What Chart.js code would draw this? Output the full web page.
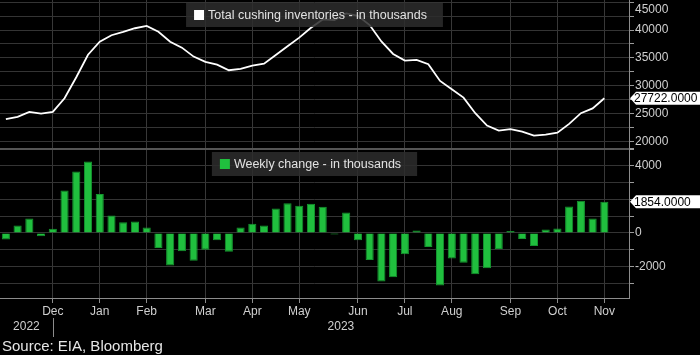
<!DOCTYPE html>
<html><head><meta charset="utf-8">
<script src="https://cdn.jsdelivr.net/npm/chart.js@4.4.0/dist/chart.umd.min.js"></script>
<style>
html,body{margin:0;padding:0;background:#000;}
#wrap{position:relative;width:700px;height:355px;overflow:hidden;background:#000;}
#c{position:absolute;left:0;top:0;}
#src{position:absolute;left:2px;top:337px;font:15px "Liberation Sans",Arial,sans-serif;color:#e6e6e6;line-height:18px;white-space:nowrap;}
</style></head><body>
<div id="wrap"><canvas id="c" width="700" height="355"></canvas><div id="src">Source: EIA, Bloomberg</div></div>
<script>
// ---- data ----
const weeks = [0,1,2,3,4,5,6,7,8,9,10,11,12,13,14,15,16,17,18,19,20,21,22,23,24,25,
  26,27,28,29,30,31,32,33,34,35,36,37,38,39,40,41,42,43,44,45,46,47,48,49,50,51];
const inventory = [23960,24370,25270,24960,25270,27730,31500,35550,37900,39060,39660,40320,40740,
  39700,37900,36830,35220,34260,33780,32770,33000,33600,33960,35520,37090,38630,
  40400,41900,41800,43000,42560,40900,37950,35700,34500,34620,33850,30850,29350,27840,
  25040,22810,21910,22160,21730,21010,21190,21550,23110,25040,25900,27722];
const weeklyChange = [-400,440,860,-200,240,2520,3660,4260,2320,1040,640,680,320,
  -900,-1940,-1100,-1660,-1000,-440,-1120,320,540,440,1460,1760,1620,
  1740,1560,-100,1220,-440,-1620,-2900,-2640,-1280,140,-840,-3140,-1520,-1780,
  -2460,-2100,-960,120,-360,-780,200,260,1580,1920,860,1854];
const monthTickWeeks = [4,8,12,17,21,25,30,34,38,43,47,51];
const monthLabels = ['Dec','Jan','Feb','Mar','Apr','May','Jun','Jul','Aug','Sep','Oct','Nov'];
const inventoryTicks = [20000,22500,25000,27500,30000,32500,35000,37500,40000,42500,45000];
const changeTicks = [-3000,-2000,-1000,0,1000,2000,3000,4000,5000];
const yearLabels = ['2022','2023'];
const yearBoundaryWeek = 4;
const seriesNames = ['Total cushing inventories - in thousands','Weekly change - in thousands'];

const FONT = '"Liberation Sans", Arial, sans-serif';
Chart.defaults.font.family = FONT;

const LABEL_COL = '#cfcfcf';
const GRID_COL = '#343434';
const AXIS_COL = '#8c8c8c';
const GREEN = '#20bf3e';

// hide an axis label when the last-value box would sit on top of it
function nearLast(v, series, min, max) {
  return Math.abs(v - series[series.length - 1]) < (max - min) * 0.05;
}

const legendPlugin = {
  id: 'panelLegends',
  afterDatasetsDraw(chart) {
    const ctx = chart.ctx, area = chart.chartArea;
    const cx = (area.left + area.right) / 2;
    ctx.save();
    ctx.font = '12.5px ' + FONT;
    chart.data.datasets.forEach((ds) => {
      const sc = chart.scales[ds.yAxisID];
      const text = ds.label;
      const tw = ctx.measureText(text).width;
      const w = 8 + 10 + 4 + tw + 16;
      const h = 24;
      const x = cx - w / 2;
      const y = sc.top + 3;
      ctx.fillStyle = 'rgba(44,44,44,0.86)';
      ctx.fillRect(x, y, w, h);
      ctx.fillStyle = ds.legendColor;
      ctx.fillRect(x + 8, y + 7, 10, 10);
      ctx.fillStyle = '#e2e2e2';
      ctx.textBaseline = 'middle';
      ctx.textAlign = 'left';
      ctx.fillText(text, x + 22, y + h / 2 + 0.5);
    });
    ctx.restore();
  },
  afterDraw(chart) {
    const ctx = chart.ctx, area = chart.chartArea;
    ctx.save();
    chart.data.datasets.forEach((ds) => {
      const last = ds.data[ds.data.length - 1].y;
      const y = chart.scales[ds.yAxisID].getPixelForValue(last);
      const x0 = area.right + 1;
      ctx.fillStyle = '#ffffff';
      ctx.beginPath();
      ctx.moveTo(x0, y);
      ctx.lineTo(x0 + 6, y - 6.5);
      ctx.lineTo(chart.width, y - 6.5);
      ctx.lineTo(chart.width, y + 6.5);
      ctx.lineTo(x0 + 6, y + 6.5);
      ctx.closePath();
      ctx.fill();
      ctx.fillStyle = '#000';
      ctx.font = '12px ' + FONT;
      ctx.textBaseline = 'middle';
      ctx.textAlign = 'left';
      ctx.fillText(last.toFixed(4), x0 + 4, y + 0.5);
    });
    const xs = chart.scales.x;
    const bx = xs.getPixelForValue(yearBoundaryWeek);
    const centers = [(area.left + bx) / 2, (bx + area.right) / 2];
    ctx.strokeStyle = AXIS_COL;
    ctx.lineWidth = 1;
    ctx.beginPath();
    ctx.moveTo(Math.round(bx) + 0.5, 318);
    ctx.lineTo(Math.round(bx) + 0.5, 337);
    ctx.stroke();
    ctx.fillStyle = LABEL_COL;
    ctx.font = '12px ' + FONT;
    ctx.textAlign = 'center';
    ctx.textBaseline = 'middle';
    yearLabels.forEach((t, i) => ctx.fillText(t, centers[i], 327));
    ctx.restore();
  }
};

const INV_MIN = 18600, INV_MAX = 45400, CHG_MIN = -3880, CHG_MAX = 5000;

new Chart(document.getElementById('c'), {
  type: 'bar',
  data: {
    labels: weeks,
    datasets: [
      {
        type: 'line',
        label: seriesNames[0],
        data: weeks.map((w, i) => ({ x: w, y: inventory[i] })),
        yAxisID: 'yInv',
        borderColor: '#ffffff',
        borderWidth: 1.8,
        pointRadius: 0,
        tension: 0,
        fill: false,
        legendColor: '#ffffff'
      },
      {
        type: 'bar',
        label: seriesNames[1],
        data: weeks.map((w, i) => ({ x: w, y: weeklyChange[i] })),
        yAxisID: 'yChg',
        backgroundColor: GREEN,
        borderColor: '#14962f',
        borderWidth: 1,
        barPercentage: 0.9,
        categoryPercentage: 0.77,
        legendColor: GREEN
      }
    ]
  },
  options: {
    responsive: false,
    animation: false,
    devicePixelRatio: 1,
    layout: { autoPadding: false, padding: 0 },
    plugins: { legend: { display: false }, tooltip: { enabled: false } },
    scales: {
      x: {
        type: 'linear', position: 'bottom', min: -0.5, max: 53.1, offset: false,
        afterBuildTicks: s => { s.ticks = monthTickWeeks.map(v => ({ value: v })); },
        afterFit: s => { s.height = 57; s.paddingLeft = 0; s.paddingRight = 0; },
        grid: { offset: false, color: '#383838', lineWidth: 1, drawTicks: true, tickLength: 5, tickColor: AXIS_COL },
        border: { display: true, color: AXIS_COL, width: 1 },
        ticks: {
          color: LABEL_COL, font: { size: 12 }, padding: 1, autoSkip: false, maxRotation: 0,
          callback: v => monthLabels[monthTickWeeks.indexOf(v)]
        }
      },
      yInv: {
        type: 'linear', position: 'right', stack: 'panels', stackWeight: 1,
        min: INV_MIN, max: INV_MAX,
        afterBuildTicks: s => { s.ticks = inventoryTicks.map(v => ({ value: v })); },
        afterFit: s => { s.width = 71; s.paddingTop = 0; s.paddingBottom = 0; },
        grid: { color: GRID_COL, lineWidth: 1, tickLength: 5, tickColor: '#9a9a9a' },
        border: { display: true, color: AXIS_COL, width: 1 },
        ticks: {
          color: LABEL_COL, font: { size: 12 }, padding: 1, autoSkip: false,
          callback: v => {
            if (v % 5000 !== 0 || nearLast(v, inventory, INV_MIN, INV_MAX)) return '';
            return v === inventoryTicks[inventoryTicks.length - 1] ? ['', String(v)] : String(v);
          }
        }
      },
      yChg: {
        type: 'linear', position: 'right', stack: 'panels', stackWeight: 1,
        min: CHG_MIN, max: CHG_MAX,
        afterBuildTicks: s => { s.ticks = changeTicks.map(v => ({ value: v })); },
        afterFit: s => { s.width = 71; s.paddingTop = 0; s.paddingBottom = 0; },
        grid: {
          color: c => (c.tick && c.tick.value === changeTicks[changeTicks.length - 1]) ? '#555555' : GRID_COL,
          lineWidth: c => (c.tick && c.tick.value === changeTicks[changeTicks.length - 1]) ? 2 : 1,
          tickLength: 5, tickColor: '#9a9a9a'
        },
        border: { display: true, color: AXIS_COL, width: 1 },
        ticks: {
          color: LABEL_COL, font: { size: 12 }, padding: 1, autoSkip: false,
          callback: v => (v % 2000 === 0 && v !== changeTicks[changeTicks.length - 1]
                          && !nearLast(v, weeklyChange, CHG_MIN, CHG_MAX)) ? String(v) : ''
        }
      }
    }
  },
  plugins: [legendPlugin]
});
</script>
</body></html>
